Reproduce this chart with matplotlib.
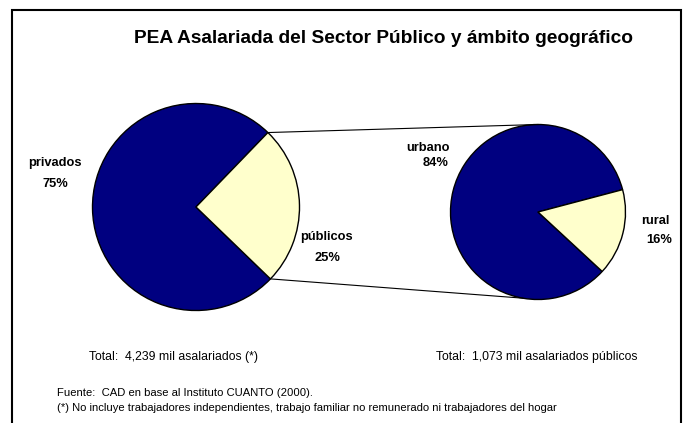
import numpy as np
import matplotlib.pyplot as plt
from matplotlib.patches import Rectangle

plt.rcParams['font.family'] = ['Liberation Sans', 'DejaVu Sans']

# data
sector_labels = ['privados', 'públicos']
sector_pct = [75, 25]
area_labels = ['urbano', 'rural']
area_pct = [84, 16]
total_text = 'Total:  4,239 mil asalariados (*)'
total_pub_text = 'Total:  1,073 mil asalariados públicos'

navy = '#000080'
cream = '#FFFFCC'

W, H = 688, 423
fig = plt.figure(figsize=(W / 100, H / 100), dpi=100)
ax = fig.add_axes([0, 0, 1, 1])

def py(y):
    # pixel row -> data y
    return H - y

# left pie
c1 = (196, py(207))
r1 = 103.5
start1 = 46
ax.pie(sector_pct, colors=[navy, cream], center=c1, radius=r1,
       startangle=start1, counterclock=True,
       wedgeprops=dict(edgecolor='black', linewidth=1.0), frame=True)

# right pie
c2 = (538, py(212))
r2 = 87.5
start2 = 14.8
ax.pie(area_pct, colors=[navy, cream], center=c2, radius=r2,
       startangle=start2, counterclock=True,
       wedgeprops=dict(edgecolor='black', linewidth=1.0), frame=True)

ax.set_xlim(0, W)
ax.set_ylim(0, H)
ax.set_aspect('equal')
ax.axis('off')

# connector lines from the públicos slice to the second pie
a_top = np.radians(start1)
a_bot = np.radians(start1 + 360 * sector_pct[0] / 100)
p1 = (c1[0] + r1 * np.cos(a_top), c1[1] + r1 * np.sin(a_top))
p2 = (c1[0] + r1 * np.cos(a_bot), c1[1] + r1 * np.sin(a_bot))
q1 = (c2[0], c2[1] + r2)
q2 = (c2[0] + r2 * np.cos(np.radians(260)), c2[1] + r2 * np.sin(np.radians(260)))
ax.plot([p1[0], q1[0]], [p1[1], q1[1]], color='black', lw=0.8)
ax.plot([p2[0], q2[0]], [p2[1], q2[1]], color='black', lw=0.8)

# frame
ax.add_patch(Rectangle((12, -5), 669, py(10) + 5, fill=False,
                       edgecolor='black', linewidth=1.5, clip_on=False))

# title
ax.text(384, py(38), 'PEA Asalariada del Sector Público y ámbito geográfico',
        ha='center', va='center', fontsize=13.8, fontweight='bold')

# slice labels
lab = dict(fontsize=9.3, fontweight='bold', va='center')
ax.text(55, py(163), sector_labels[0], ha='center', **lab)
ax.text(55, py(184), f'{sector_pct[0]}%', ha='center', **lab)
ax.text(300, py(237), sector_labels[1], ha='left', **lab)
ax.text(327, py(258), f'{sector_pct[1]}%', ha='center', **lab)
ax.text(428, py(148), area_labels[0], ha='center', **lab)
ax.text(436, py(163), f'{area_pct[0]}%', ha='center', **lab)
ax.text(655, py(221), area_labels[1], ha='center', **lab)
ax.text(659, py(240), f'{area_pct[1]}%', ha='center', **lab)

# totals and notes
ax.text(89, py(357), total_text, ha='left', va='center', fontsize=8.8)
ax.text(436, py(357), total_pub_text, ha='left', va='center', fontsize=8.8)
ax.text(57, py(393), 'Fuente:  CAD en base al Instituto CUANTO (2000).',
        ha='left', va='center', fontsize=8.1)
ax.text(57, py(408), '(*) No incluye trabajadores independientes, trabajo familiar no remunerado ni trabajadores del hogar',
        ha='left', va='center', fontsize=8.1)

fig.savefig('out.png', dpi=100)
